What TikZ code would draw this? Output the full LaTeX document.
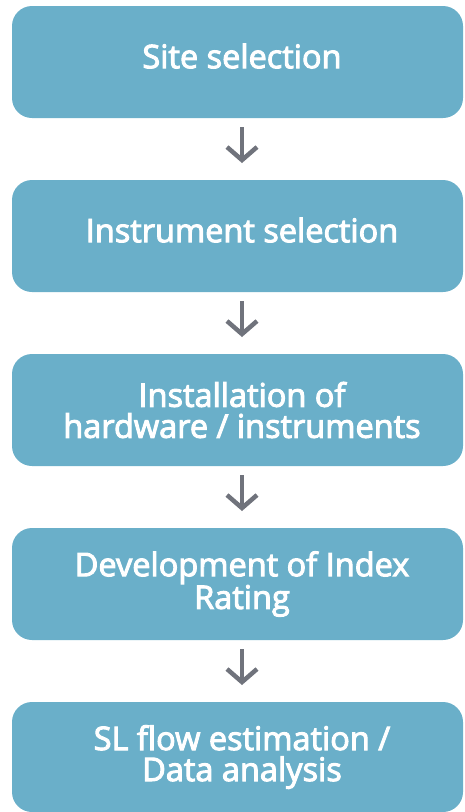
\documentclass[tikz,border=0pt]{standalone}
\usepackage{fontspec}
\setmainfont{Open Sans}
\newfontfamily\semibold{Open Sans}[FakeBold=3]
\usetikzlibrary{arrows.meta}
\definecolor{boxblue}{HTML}{6AAFC9}
\definecolor{arrowgray}{HTML}{70737C}
\begin{document}
\begin{tikzpicture}[x=1pt,y=-1pt,
  stepbox/.style={fill=boxblue,draw=none,rounded corners=20pt,minimum width=451pt,minimum height=112pt,inner sep=0pt,outer sep=0pt},
  steptext/.style={text=white,font=\fontsize{32.5}{31}\selectfont\semibold,align=center,inner sep=0pt},
  flowarrow/.style={arrowgray,line width=4.5pt,-{Straight Barb[length=13pt,width=30pt,line width=4.5pt]}}]
\useasboundingbox (0,0) rectangle (464,812);
\node[stepbox] (b1) at (237.5,62) {};
\node[stepbox] (b2) at (237.5,236) {};
\node[stepbox] (b3) at (237.5,410) {};
\node[stepbox] (b4) at (237.5,584) {};
\node[stepbox,minimum height=110pt] (b5) at (237.5,757) {};
\node[steptext] (t1) at (242,56) {Site selection};
\node[steptext] (t2) at (242,230) {Instrument selection};
\node[steptext] (t3) at (242,410) {Installation of\\hardware / instruments};
\node[steptext] (t4) at (242,584) {Development of Index\\Rating};
\node[steptext] (t5) at (242,757) {SL flow estimation /\\Data analysis};
\foreach \a/\b in {b1/b2,b2/b3,b3/b4,b4/b5}{
  \draw[flowarrow,shorten <=9pt,shorten >=17pt] (\a.south -| t1.center) -- (\b.north -| t1.center);
}
\end{tikzpicture}
\end{document}
